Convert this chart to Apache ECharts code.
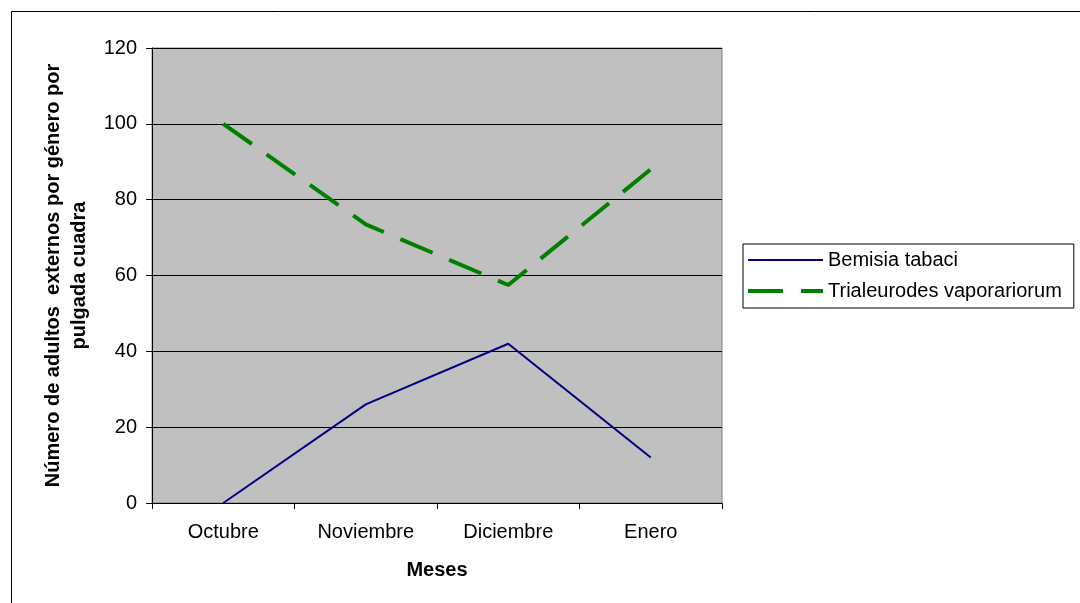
<!DOCTYPE html>
<html>
<head>
<meta charset="utf-8">
<script src="https://cdn.jsdelivr.net/npm/echarts@6/dist/echarts.min.js"></script>
<style>html,body{margin:0;padding:0;background:#fff}#c{width:1080px;height:603px}</style>
</head>
<body>
<div id="c"></div>
<script>
const categories = ['Octubre', 'Noviembre', 'Diciembre', 'Enero'];
const bemisia = [0, 26, 42, 12];
const trialeurodes = [100, 73.5, 57.5, 88];
const seriesNames = ['Bemisia tabaci', 'Trialeurodes vaporariorum'];
const yTicks = [0, 20, 40, 60, 80, 100, 120];

const chart = echarts.init(document.getElementById('c'), null, {renderer: 'canvas'});
const font = 'Arial, "Liberation Sans", sans-serif';
chart.setOption({
  animation: false,
  backgroundColor: '#ffffff',
  graphic: [{
    type: 'rect', left: 9, top: 9, z: -1,
    shape: {width: 1069, height: 601},
    style: {fill: 'none', stroke: '#000', lineWidth: 1}
  }],
  grid: {
    left: 152, right: 358, top: 48, bottom: 100,
    show: true, backgroundColor: '#C0C0C0', borderColor: '#808080', borderWidth: 1
  },
  legend: {
    orient: 'vertical',
    left: 743, top: 244,
    padding: [6, 12, 7, 5],
    itemGap: 11,
    itemWidth: 75, itemHeight: 6,
    borderColor: '#000', borderWidth: 1,
    backgroundColor: '#fff',
    itemStyle: {borderWidth: 0},
    textStyle: {fontFamily: font, fontSize: 20, color: '#000', lineHeight: 20},
    data: [
      {name: seriesNames[0], icon: 'path://M0,0h0.01v0.01h-0.01z M0,2h75v2h-75z M0,5.99h0.01v0.01h-0.01z'},
      {name: seriesNames[1], icon: 'path://M0,0h0.01v0.01h-0.01z M0,1h35v4h-35z M53,1h22v4h-22z M0,5.99h0.01v0.01h-0.01z'}
    ]
  },
  xAxis: {
    type: 'category',
    data: categories,
    boundaryGap: true,
    name: 'Meses',
    nameLocation: 'middle',
    nameGap: 57,
    nameTextStyle: {fontFamily: font, fontSize: 20, fontWeight: 'bold', color: '#000'},
    axisLine: {lineStyle: {color: '#000', width: 1}},
    axisTick: {show: true, length: 6, lineStyle: {color: '#000'}},
    axisLabel: {fontFamily: font, fontSize: 20, color: '#000', margin: 19},
    splitLine: {show: false}
  },
  yAxis: {
    type: 'value',
    min: 0, max: 120, interval: 20,
    name: 'Número de adultos  externos por género por\npulgada cuadra',
    nameLocation: 'middle',
    nameGap: 52,
    nameTextStyle: {fontFamily: font, fontSize: 20, fontWeight: 'bold', color: '#000', lineHeight: 26},
    axisLine: {show: true, lineStyle: {color: '#000', width: 1}},
    axisTick: {show: true, length: 6, lineStyle: {color: '#000'}},
    axisLabel: {fontFamily: font, fontSize: 20, color: '#000', margin: 15,
      formatter: v => yTicks.includes(v) ? String(v) : ''},
    splitLine: {show: true, lineStyle: {color: '#000', width: 1}}
  },
  series: [{
    name: seriesNames[0],
    type: 'line',
    data: bemisia,
    symbol: 'none',
    lineStyle: {color: '#000080', width: 2},
    itemStyle: {color: '#000080'}
  }, {
    name: seriesNames[1],
    type: 'line',
    data: trialeurodes,
    symbol: 'none',
    lineStyle: {color: '#008000', width: 4, type: [35, 18]},
    itemStyle: {color: '#008000'}
  }]
});
</script>
</body>
</html>
